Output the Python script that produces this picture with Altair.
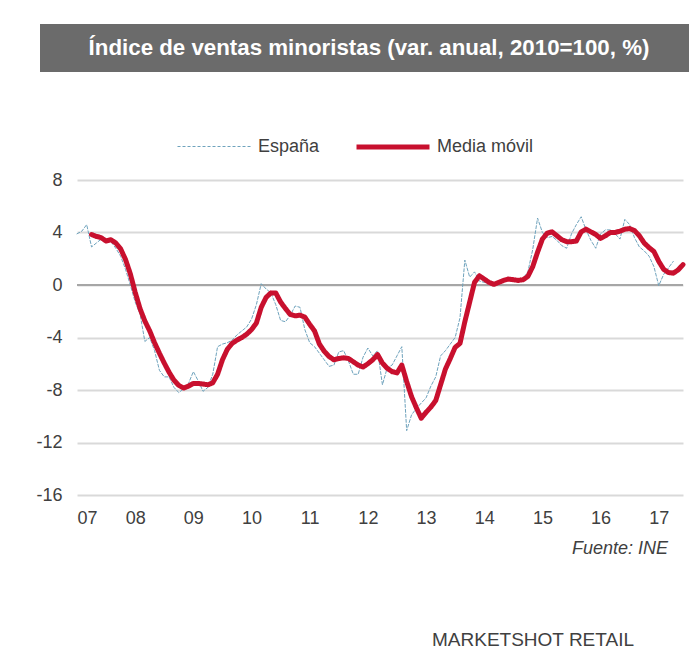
import altair as alt
import pandas as pd

# ---- data ----
series_names = ["España", "Media móvil"]
year_labels = ["07", "08", "09", "10", "11", "12", "13", "14", "15", "16", "17"]
y_ticks = [-16, -12, -8, -4, 0, 4, 8]

# monthly values, España from Jan-2007
espana = [
    3.9, 4.1, 4.6, 2.9, 3.2, 3.5, 3.3, 3.3, 2.8, 2.2, 1.2, 0.0,
    -1.3, -2.2, -4.3, -4.0, -5.0, -6.5, -7.0, -7.0, -7.8, -8.2, -7.9, -7.5,
    -6.6, -7.3, -8.1, -7.8, -6.8, -4.7, -4.5, -4.4, -4.2, -3.8, -3.5, -3.2,
    -2.6, -1.5, 0.1, -0.3, -0.6, -1.5, -2.7, -2.8, -2.3, -1.6, -1.7, -3.4,
    -4.4, -4.7, -5.2, -5.7, -6.2, -6.1, -5.1, -5.0, -5.8, -6.8, -6.8, -5.5,
    -4.8, -5.4, -5.0, -7.6, -6.3, -6.1, -5.4, -4.7, -11.1, -9.9, -9.4, -9.0,
    -8.6, -7.7, -7.0, -5.4, -5.0, -4.5, -4.0, -2.5, 1.9, 0.6, 1.0, 0.3,
    0.2, 0.1, 0.0, 0.3, 0.4, 0.4, 0.4, 0.4, 0.5, 1.0, 2.7, 5.1,
    4.0, 3.6, 3.7, 3.4, 3.0, 2.8, 3.9, 4.6, 5.2, 4.2, 3.4, 2.8,
    3.9, 4.2, 4.2, 3.9, 3.5, 5.0, 4.6, 3.6, 2.9, 2.6, 2.2, 1.4,
    -0.05, 0.8, 1.3, 1.8,
]
espana_start = 0  # month index of first value (Jan-2007)

# moving average, from Apr-2007
media_movil = [
    3.85, 3.7, 3.6, 3.35, 3.45, 3.2, 2.75, 1.95, 0.85,
    -0.55, -1.8, -2.75, -3.5, -4.4, -5.2, -5.95, -6.65, -7.25, -7.65, -7.85, -7.7,
    -7.5, -7.5, -7.55, -7.6, -7.45, -6.8, -5.7, -4.9, -4.45, -4.2, -4.0, -3.75,
    -3.4, -2.9, -1.7, -0.95, -0.6, -0.6, -1.3, -1.8, -2.25, -2.35, -2.3, -2.45,
    -3.0, -3.5, -4.5, -5.05, -5.45, -5.7, -5.6, -5.55, -5.6, -5.85, -6.1, -6.25,
    -6.0, -5.7, -5.3, -5.95, -6.35, -6.6, -6.7, -6.1, -7.35, -8.5, -9.35, -10.15,
    -9.7, -9.3, -8.8, -7.6, -6.4, -5.6, -4.75, -4.45, -2.8, -1.3, 0.2, 0.7,
    0.45, 0.2, 0.05, 0.2, 0.35, 0.45, 0.4, 0.35, 0.4, 0.65, 1.4, 2.5,
    3.5, 3.95, 4.05, 3.75, 3.45, 3.3, 3.3, 3.35, 4.05, 4.25, 4.05, 3.85,
    3.55, 3.75, 4.0, 4.0, 4.1, 4.25, 4.3, 4.15, 3.75, 3.2, 2.85, 2.55,
    1.8, 1.2, 0.95, 0.9, 1.15, 1.55,
]
media_start = 3  # Apr-2007

title_text = "Índice de ventas minoristas (var. anual, 2010=100, %)"
source_text = "Fuente: INE"
brand_text = "MARKETSHOT RETAIL"

# ---- table ----
df = pd.concat([
    pd.DataFrame({"m": list(range(espana_start, espana_start + len(espana))),
                  "v": espana, "serie": series_names[0]}),
    pd.DataFrame({"m": list(range(media_start, media_start + len(media_movil))),
                  "v": media_movil, "serie": series_names[1]}),
], ignore_index=True)

W, H = 606, 315
FONT = "Liberation Sans"
TXT = "#404040"

label_arr = "[" + ",".join("'%s'" % s for s in year_labels) + "]"

legend = alt.Legend(
    title=None, orient="none", legendX=98, legendY=-72, direction="horizontal",
    columns=2, symbolType="stroke", symbolSize=5329, labelFontSize=18,
    labelFont=FONT, labelColor=TXT, labelOffset=5, columnPadding=26,
)

lines = alt.Chart(df).mark_line(strokeCap="round", strokeJoin="round").encode(
    x=alt.X("m:Q",
            scale=alt.Scale(domain=[0, 125], nice=False, zero=False),
            axis=alt.Axis(values=[12 * i for i in range(len(year_labels))],
                          labelExpr=label_arr + "[round(datum.value/12)]",
                          title=None, grid=False, domain=False, ticks=False,
                          labelFontSize=18, labelFont=FONT, labelColor=TXT,
                          labelPadding=14)),
    y=alt.Y("v:Q",
            scale=alt.Scale(domain=[-16, 8], nice=False, zero=False),
            axis=alt.Axis(values=y_ticks, title=None, grid=True,
                          labelExpr="'' + datum.value",
                          gridColor="#d9d9d9", gridWidth=2, domain=False,
                          ticks=False, labelFontSize=18, labelFont=FONT,
                          labelColor=TXT, labelPadding=15)),
    color=alt.Color("serie:N", scale=alt.Scale(domain=series_names,
                                               range=["#6fa3bd", "#c8102e"]),
                    legend=legend),
    strokeDash=alt.StrokeDash("serie:N", scale=alt.Scale(domain=series_names,
                                                         range=[[3, 2], [1, 0]]),
                              legend=legend),
    strokeWidth=alt.StrokeWidth("serie:N", scale=alt.Scale(domain=series_names,
                                                           range=[1, 5]),
                                legend=legend),
)

zero_rule = alt.Chart(pd.DataFrame({"z": [0]})).mark_rule(
    color="#a6a6a6", strokeWidth=2).encode(y=alt.Y("z:Q"))

title_box = alt.Chart(pd.DataFrame({"t": [title_text]})).mark_rect(
    color="#6b6b6b").encode(x=alt.value(-37), x2=alt.value(630),
                            y=alt.value(-156), y2=alt.value(-108))

title_lbl = alt.Chart(pd.DataFrame({"t": [title_text]})).mark_text(
    color="white", fontSize=22.3, fontWeight="bold",
    font="Liberation Sans Narrow, Arial Narrow, Liberation Sans",
    align="center", baseline="middle").encode(
    text="t:N", x=alt.value(292), y=alt.value(-132))

source_lbl = alt.Chart(pd.DataFrame({"t": [source_text]})).mark_text(
    color=TXT, fontSize=18, fontStyle="italic", font=FONT,
    align="right", baseline="middle").encode(
    text="t:N", x=alt.value(591), y=alt.value(369))

brand_lbl = alt.Chart(pd.DataFrame({"t": [brand_text]})).mark_text(
    color=TXT, fontSize=19, font=FONT, align="center", baseline="middle").encode(
    text="t:N", x=alt.value(456), y=alt.value(460))

chart = alt.layer(zero_rule, lines, title_box, title_lbl, source_lbl, brand_lbl).properties(
    width=W, height=H,
    autosize=alt.AutoSizeParams(type="none"),
    padding={"left": 69, "top": 172, "right": 6, "bottom": 158},
    background="white",
).configure_view(stroke=None)

chart.save("out.html", embed_options={"renderer": "svg", "actions": False})
